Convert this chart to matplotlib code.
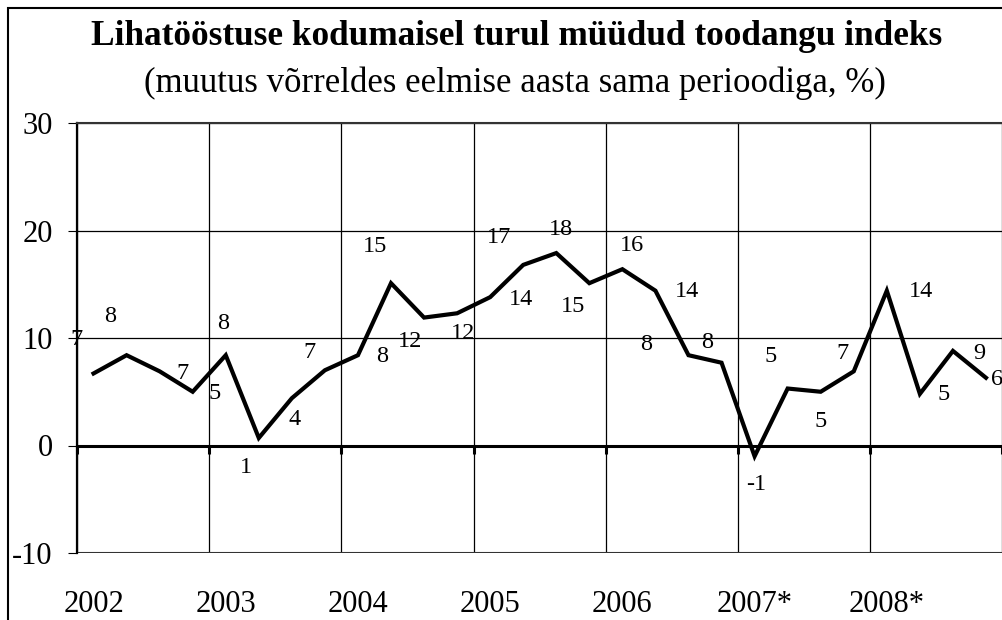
import numpy as np
import matplotlib.pyplot as plt
from matplotlib.patches import Rectangle

# === 数据（季度，2002 Q1 - 2008 Q4）===
years = ['2002', '2003', '2004', '2005', '2006', '2007*', '2008*']
values = [6.7, 8.4, 6.9, 5.0,
          8.4, 0.7, 4.4, 7.0,
          8.4, 15.1, 11.9, 12.3,
          13.8, 16.8, 17.9, 15.1,
          16.4, 14.4, 8.4, 7.7,
          -1.0, 5.3, 5.0, 6.9,
          14.4, 4.8, 8.8, 6.3]

# label offsets in pixels (dx, dy) relative to each point
label_offsets = [(-17, 34), (-16, 39), (23, -2), (22, -2),
                 (-3, 32), (-13, -30), (3, -21), (-15, 18),
                 (24, -1), (-16, 37), (-14, -24), (6, -20),
                 (31, -2), (-24, 27), (5, 24), (-16, -23),
                 (10, 24), (32, -1), (-42, 11), (-14, 20),
                 (2, -28), (-17, 32), (0, -30), (-11, 18),
                 (34, -1), (24, -1), (26, -3), (11, -2)]

plt.rcParams['font.family'] = ['Liberation Serif', 'DejaVu Serif']
plt.rcParams['axes.unicode_minus'] = False

fig = plt.figure(figsize=(10.03, 6.2), dpi=100)
ax = fig.add_axes([77 / 1003, 1 - 553 / 620, (1002.5 - 77) / 1003, 430 / 620])

x = np.arange(len(values)) + 0.5
ax.plot(x, values, color='black', lw=3, solid_joinstyle='miter', zorder=5)

for xi, v, off in zip(x, values, label_offsets):
    ax.annotate(f'{v:.0f}', (xi, v), xytext=off, textcoords='offset pixels',
                ha='center', va='center', fontsize=17.5, zorder=6)

ax.set_xlim(0, len(values))
ax.set_ylim(-10, 30)
ax.set_yticks([-10, 0, 10, 20, 30])
ax.tick_params(axis='y', direction='out', length=6.5, width=0.8,
               pad=11, labelsize=22, color='black')

ax.set_xticks(np.arange(0, len(values) + 1, 4))
ax.set_xticklabels([])
ax.tick_params(axis='x', direction='out', length=6, width=2.2, color='black')

for i, yr in enumerate(years):
    ax.text(4 * i + 0.5, (553 - 612) / 430, yr, transform=ax.get_xaxis_transform(),
            ha='center', va='baseline', fontsize=22)

ax.grid(True, color='black', lw=0.9)
ax.set_axisbelow(True)

ax.spines['bottom'].set_position(('data', 0))
ax.spines['bottom'].set_linewidth(2.2)
ax.spines['bottom'].set_zorder(4)
ax.spines['left'].set_linewidth(1.6)
ax.spines['top'].set_linewidth(1.5)
ax.spines['top'].set_color('#333333')
ax.spines['right'].set_visible(False)
ax.axhline(-10, color='#333333', lw=1.5)

fig.text(517 / 1003, 1 - 45 / 620, 'Lihatööstuse kodumaisel turul müüdud toodangu indeks',
         ha='center', va='baseline', fontsize=25.4, fontweight='bold')
fig.text(515 / 1003, 1 - 92 / 620, '(muutus võrreldes eelmise aasta sama perioodiga, %)',
         ha='center', va='baseline', fontsize=25)

# figure border (right / bottom edges are cut off)
fig.patches.append(Rectangle((8 / 1003, -0.1), 1.2, 1.1 - 8 / 620,
                             transform=fig.transFigure, fill=False,
                             edgecolor='black', lw=1.5))

plt.savefig('out.png', dpi=100)
